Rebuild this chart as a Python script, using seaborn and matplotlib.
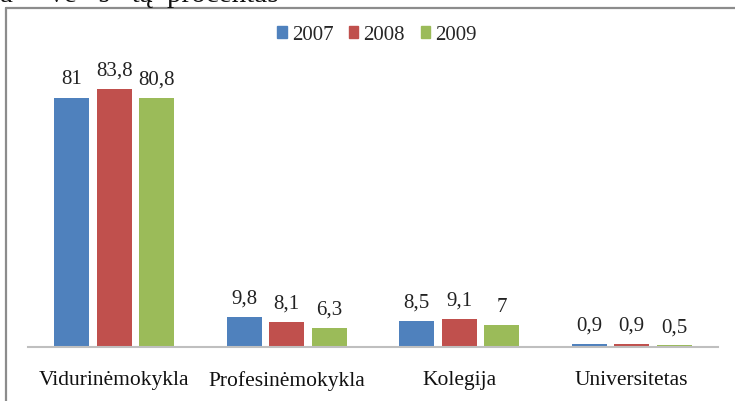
import matplotlib
matplotlib.use('Agg')
import matplotlib.pyplot as plt
import seaborn as sns
import pandas as pd
from matplotlib.lines import Line2D

categories = ['Vidurinėmokykla', 'Profesinėmokykla', 'Kolegija', 'Universitetas']
years = ['2007', '2008', '2009']
values_2007 = [81, 9.8, 8.5, 0.9]
values_2008 = [83.8, 8.1, 9.1, 0.9]
values_2009 = [80.8, 6.3, 7, 0.5]
colors = ['#4F81BD', '#C0504D', '#9BBB59']

# long format for seaborn
rows = []
for year, vals in zip(years, [values_2007, values_2008, values_2009]):
    for cat, v in zip(categories, vals):
        rows.append({'Kategorija': cat, 'Metai': year, 'Procentas': v})
df = pd.DataFrame(rows)

sns.set_style('white')
plt.rcParams['font.family'] = ['Liberation Serif', 'DejaVu Serif']

W, H = 735, 401
fig = plt.figure(figsize=(W / 100, H / 100), dpi=100)
ax = fig.add_axes([28 / W, (H - 347) / H, 690 / W, 308 / H])

sns.barplot(data=df, x='Kategorija', y='Procentas', hue='Metai',
            palette=colors, width=0.74, gap=0.18, ax=ax, legend=False,
            saturation=1, errorbar=None, linewidth=0)

ax.set_ylim(0, 100)
ax.set_xlim(-0.5, 3.5)

# value labels with decimal comma
for cont, vals in zip(ax.containers, [values_2007, values_2008, values_2009]):
    labels = [str(v).replace('.', ',') for v in vals]
    ax.bar_label(cont, labels=labels, padding=6, fontsize=15, color='#222222')

ax.set_xlabel('')
ax.set_ylabel('')
ax.set_yticks([])
ax.tick_params(axis='x', length=0, pad=17, labelsize=15.5, colors='#111111')
for s in ['top', 'right', 'left']:
    ax.spines[s].set_visible(False)
ax.spines['bottom'].set_color('#BFBFBF')
ax.spines['bottom'].set_linewidth(1.5)

handles = [plt.Rectangle((0, 0), 1, 1, color=c) for c in colors]
fig.legend(handles, years, loc='center', bbox_to_anchor=(377 / W, 1 - 35 / H),
           ncol=3, frameon=False, fontsize=15, handlelength=0.45, handleheight=0.45,
           handletextpad=0.25, columnspacing=0.75)

# chart frame (left and top edges visible)
fig.add_artist(Line2D([6 / W, 6 / W], [0, 1 - 8 / H], transform=fig.transFigure,
                      color='#8C8C8C', lw=1.6))
fig.add_artist(Line2D([6 / W, 1], [1 - 8 / H, 1 - 8 / H], transform=fig.transFigure,
                      color='#8C8C8C', lw=1.6))

# cut-off caption line above the chart (only its lower edge shows)
fig.text(0.0, 1 - 1.5 / H, 'a     ve   s   tą  procentas', fontsize=21, va='baseline',
         ha='left', color='#111111')

fig.savefig('out.png', dpi=100)
